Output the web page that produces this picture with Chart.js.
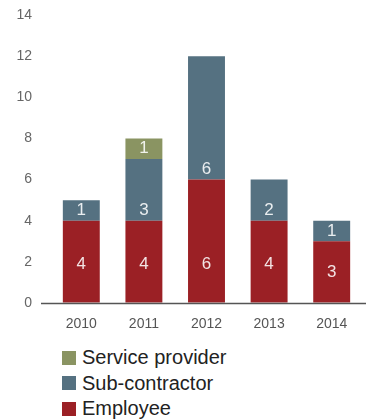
<!DOCTYPE html>
<html>
<head>
<meta charset="utf-8">
<script src="https://cdn.jsdelivr.net/npm/chart.js@4.4.1/dist/chart.umd.min.js"></script>
<style>
  html, body { margin: 0; padding: 0; background: #fff; }
  #wrap { position: relative; width: 366px; height: 419px; overflow: hidden; }
  #chart { position: absolute; left: 0; top: 0; }
  #legend { position: absolute; left: 62px; top: 345px; font-family: "Liberation Sans", Arial, sans-serif; font-size: 20px; color: #222; }
  .item { height: 25.5px; line-height: 25px; display: flex; align-items: center; }
  .box { width: 14px; height: 14px; margin-right: 6px; }
</style>
</head>
<body>
<div id="wrap">
  <canvas id="chart" width="366" height="335"></canvas>
  <div id="legend"></div>
</div>
<script>
const years = ['2010', '2011', '2012', '2013', '2014'];
const employee = [4, 4, 6, 4, 3];
const subContractor = [1, 3, 6, 2, 1];
const serviceProvider = [0, 1, 0, 0, 0];
const yTicks = [0, 2, 4, 6, 8, 10, 12, 14];

const FONT = '"Liberation Sans", Arial, sans-serif';

// labels sit a fixed distance above the bottom of each segment
const labelLift = [1.9, 0.5, 0.5];

const segmentLabels = {
    id: 'segmentLabels',
    afterDatasetsDraw(chart) {
        const ctx = chart.ctx;
        const yScale = chart.scales.y;
        ctx.save();
        ctx.font = '17px ' + FONT;
        ctx.fillStyle = 'rgba(255,255,255,0.88)';
        ctx.textAlign = 'center';
        ctx.textBaseline = 'middle';
        chart.data.datasets.forEach((ds, di) => {
            const meta = chart.getDatasetMeta(di);
            meta.data.forEach((bar, i) => {
                const v = ds.data[i];
                if (!v) return;
                let base = 0;
                for (let k = 0; k < di; k++) base += chart.data.datasets[k].data[i];
                const lift = Math.min(labelLift[di], v / 2);
                ctx.fillText(String(v), bar.x, yScale.getPixelForValue(base + lift));
            });
        });
        // baseline under the bars
        const y0 = yScale.getPixelForValue(0);
        ctx.strokeStyle = '#555';
        ctx.lineWidth = 1.5;
        ctx.beginPath();
        ctx.moveTo(41, y0 + 0.5);
        ctx.lineTo(chart.width, y0 + 0.5);
        ctx.stroke();
        ctx.restore();
    }
};

const chart = new Chart(document.getElementById('chart'), {
    type: 'bar',
    data: {
        labels: years,
        datasets: [
            { label: 'Employee', data: employee, backgroundColor: 'rgb(155,32,37)' },
            { label: 'Sub-contractor', data: subContractor, backgroundColor: 'rgb(85,113,129)' },
            { label: 'Service provider', data: serviceProvider, backgroundColor: 'rgb(138,148,98)' }
        ]
    },
    options: {
        responsive: false,
        animation: false,
        layout: { padding: { top: 15, right: 3, left: 0, bottom: 0 } },
        datasets: { bar: { barPercentage: 0.59, categoryPercentage: 1 } },
        plugins: { legend: { display: false }, tooltip: { enabled: false } },
        scales: {
            x: {
                stacked: true,
                grid: { display: false, drawTicks: false },
                border: { display: false },
                ticks: { color: '#555', font: { family: FONT, size: 14 }, padding: 13 },
                afterFit(axis) { axis.height = 32; }
            },
            y: {
                stacked: true,
                min: 0,
                max: 14,
                // invisible tick marks keep the labels away from the bars
                grid: { display: true, color: 'transparent', drawOnChartArea: false, drawTicks: true, tickLength: 16 },
                border: { display: false },
                afterBuildTicks(axis) { axis.ticks = yTicks.map(v => ({ value: v })); },
                ticks: { color: '#666', font: { family: FONT, size: 14 }, padding: 2 },
                afterFit(axis) { axis.width = 50; }
            }
        }
    },
    plugins: [segmentLabels]
});

// legend, top entry first
const legend = document.getElementById('legend');
chart.data.datasets.slice().reverse().forEach(ds => {
    const item = document.createElement('div');
    item.className = 'item';
    const box = document.createElement('span');
    box.className = 'box';
    box.style.background = ds.backgroundColor;
    item.appendChild(box);
    item.appendChild(document.createTextNode(ds.label));
    legend.appendChild(item);
});
</script>
</body>
</html>
